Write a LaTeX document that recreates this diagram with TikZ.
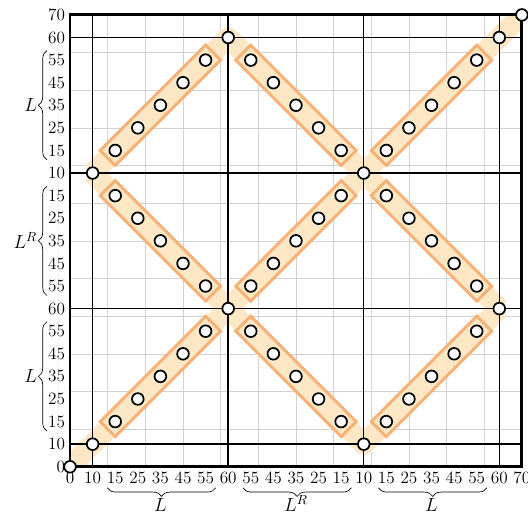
\documentclass[tikz,border=0pt]{standalone}
\usetikzlibrary{decorations.pathreplacing,calc}
\definecolor{BandLine}{HTML}{F9B075}
\definecolor{BandFill}{HTML}{FDE7C4}
\definecolor{GridGray}{HTML}{D2D2D2}
\definecolor{Faint}{HTML}{E4E4E4}

\begin{document}
\begin{tikzpicture}[x=0.6cm,y=0.6cm,
  pt/.style={circle,draw=black,fill=white,line width=1.3pt,inner sep=0pt,minimum size=0.31cm},
  gridline/.style={draw=GridGray,line width=0.4pt},
  mainline/.style={draw=black,line width=1.1pt},
  frame/.style={draw=black,line width=2.2pt},
  halo/.style={draw=BandFill,line width=0.55cm,line join=round},
  bandout/.style={draw=BandLine,line width=0.64cm,line cap=rect},
  bandin/.style={draw=BandFill,line width=0.48cm,line cap=rect},
  tick/.style={fill=white,inner sep=1pt,font=\fontsize{13}{15}\selectfont},
  brc/.style={decorate,decoration={brace,amplitude=6.5pt},line width=0.5pt},
  blabel/.style={font=\fontsize{14.5}{17}\selectfont,inner sep=0.5pt}
]
\useasboundingbox (-3.10,-2.12) rectangle (20.27,20.66);
% faint outer line
\draw[Faint,rounded corners=4pt] (-0.53,20.8) -- (-0.53,-0.49) -- (20.5,-0.49);
% grid
\draw[gridline] (0,0) grid (20,20);
% turning points of the path
\foreach \x/\y/\n in {0/0/o,1/1/a1,7/7/c,13/1/a13,19/7/r,1/13/l,13/13/b13,7/19/t7,19/19/t19,20/20/e}
  \coordinate (\n) at (\x,\y);
\begin{scope}
  \clip (0,0) rectangle (20,20);
  \draw[halo] (o) -- (a1) -- (c) -- (a13) -- (r);
  \draw[halo] (l) -- (c) -- (b13) -- (r);
  \draw[halo] (l) -- (t7) -- (b13) -- (t19) -- (e);
\end{scope}
% the nine runs of five points
\foreach \sx/\sy/\dx/\dy/\id in {2/2/1/1/A,8/6/1/-1/B,14/2/1/1/C,2/12/1/-1/D,8/8/1/1/E,14/12/1/-1/F,2/14/1/1/G,8/18/1/-1/H,14/14/1/1/I} {
  \foreach \k in {0,...,4}
    \coordinate (\id\k) at (\sx+\k*\dx,\sy+\k*\dy);
  \draw[bandout] (\id0) -- (\id4);
  \draw[bandin] (\id0) -- (\id4);
}
% block lines
\foreach \k in {1,7,13,19} {
  \draw[mainline] (\k,0) -- (\k,20);
  \draw[mainline] (0,\k) -- (20,\k);
}
\draw[frame] (0,0) rectangle (20,20);
% tick labels
\foreach \v [count=\i from 0] in {0,10,15,25,35,45,55,60,55,45,35,25,15,10,15,25,35,45,55,60,70} {
  \node[tick] (xt\i) at (\i,-0.5) {\v};
  \node[tick,anchor=east] (yt\i) at (-0.15,\i) {\v};
}
% points
\foreach \n in {o,a1,c,a13,r,l,b13,t7,t19,e}
  \node[pt] (dot-\n) at (\n) {};
\foreach \id in {A,B,C,D,E,F,G,H,I}
  \foreach \k in {0,...,4}
    \node[pt] (dot-\id\k) at (\id\k) {};
% braces
\foreach \lo/\hi/\t [count=\j] in {2/6/L,8/12/L^R,14/18/L} {
  \draw[brc] (-1.02,\lo-0.42) -- (-1.02,\hi+0.42);
  \node[blabel,anchor=east] (ly\j) at (-1.42,{(\lo+\hi)/2}) {$\t$};
  \draw[brc] (\hi+0.45,-0.93) -- (\lo-0.35,-0.93);
  \node[blabel,anchor=south] (lx\j) at ({(\lo+\hi)/2},-2.02) {$\t$};
}
\end{tikzpicture}
\end{document}
